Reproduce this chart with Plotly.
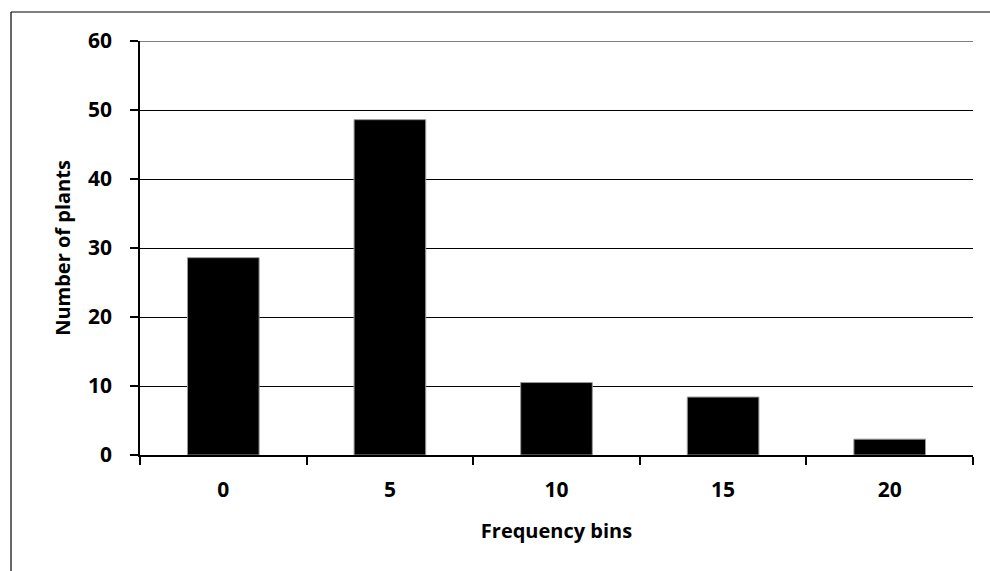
import plotly.graph_objects as go

bins = ["0", "5", "10", "15", "20"]
plants = [28.6, 48.6, 10.5, 8.4, 2.3]
y_ticks = [0, 10, 20, 30, 40, 50, 60]

FONT = "Open Sans"
FS = 21

fig = go.Figure(go.Bar(
    x=bins, y=plants,
    marker=dict(color="#000000", line=dict(color="#9a9a9a", width=1)),
))

fig.update_layout(
    width=990, height=571,
    margin=dict(l=140, r=17, t=41, b=116),
    paper_bgcolor="white", plot_bgcolor="white",
    bargap=0.57,
    showlegend=False,
    font=dict(family=FONT, size=FS, color="black"),
)

fig.update_xaxes(
    type="category",
    showline=True, linecolor="black", linewidth=1.5,
    ticks="outside", ticklen=8, tickcolor="black", tickwidth=1.5,
    tickson="boundaries",
    tickfont=dict(family=FONT, size=FS, color="black", weight="bold"),
    ticklabelstandoff=15,
    title=dict(text="Frequency bins", standoff=22,
               font=dict(family=FONT, size=FS - 1, color="black", weight="bold")),
    showgrid=False,
)
fig.update_yaxes(
    range=[0, 60], tickvals=y_ticks,
    showline=True, linecolor="black", linewidth=1.5,
    ticks="outside", ticklen=8, tickcolor="black", tickwidth=1.5,
    tickfont=dict(family=FONT, size=FS, color="black", weight="bold"),
    ticklabelstandoff=14,
    showgrid=True, gridcolor="black", gridwidth=1.2,
    zeroline=False,
    title=dict(text="Number of plants", standoff=12,
               font=dict(family=FONT, size=FS - 1, color="black", weight="bold")),
)

# top gridline at 60
fig.add_shape(type="line", xref="paper", yref="y",
              x0=0, x1=1, y0=60, y1=60,
              line=dict(color="black", width=1.2))

# outer frame (left and top edges visible in the reference)
fig.add_shape(type="line", xref="paper", yref="paper",
              x0=-129/833, x1=1.05, y0=(571-116-12)/414, y1=(571-116-12)/414,
              line=dict(color="black", width=1.2))
fig.add_shape(type="line", xref="paper", yref="paper",
              x0=-129/833, x1=-129/833, y0=-1, y1=(571-116-12)/414,
              line=dict(color="black", width=1.2))

fig.write_html("out.html")
